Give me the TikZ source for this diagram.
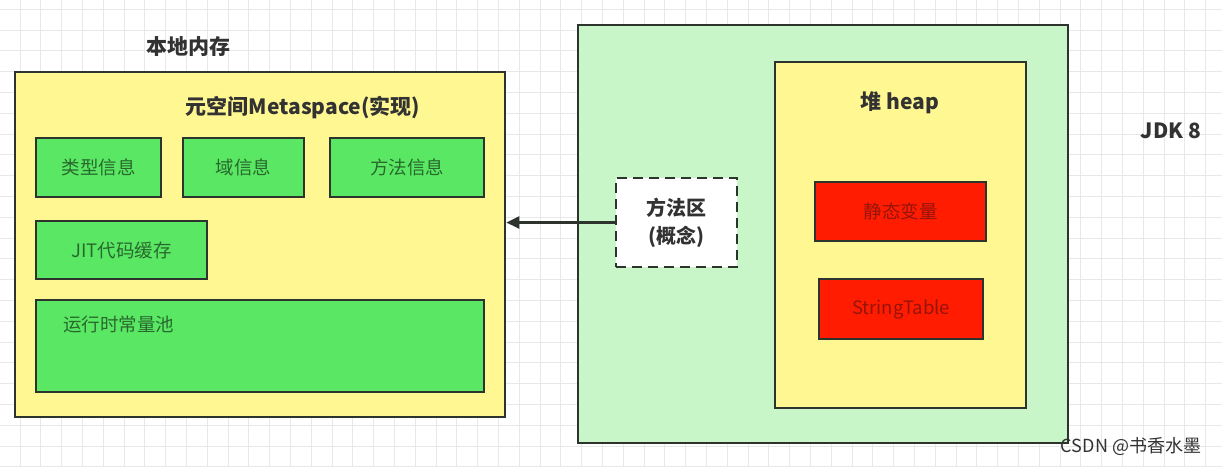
\documentclass[tikz,border=0pt]{standalone}
\usepackage{fontspec}
\setmainfont{Noto Sans CJK SC}
\usetikzlibrary{arrows.meta}
\definecolor{gridc}{RGB}{232,232,232}
\definecolor{bordc}{RGB}{45,52,45}
\definecolor{yellowc}{RGB}{255,247,145}
\definecolor{greenc}{RGB}{90,232,100}
\definecolor{palegreen}{RGB}{200,246,200}
\definecolor{redc}{RGB}{255,28,0}
\definecolor{greentext}{RGB}{40,105,45}
\definecolor{redtext}{RGB}{150,20,10}
\definecolor{labeltext}{RGB}{50,50,50}
\tikzset{
  region/.style={draw=bordc, line width=2.6pt, inner sep=0pt},
  ybox/.style={region, fill=yellowc},
  gbox/.style={region, fill=greenc, text=greentext, font=\fontsize{18.5}{21}\selectfont},
  rbox/.style={region, fill=redc, text=redtext, font=\fontsize{18.5}{21}\selectfont},
  dbox/.style={region, fill=white, dash pattern=on 10pt off 6pt, text=labeltext, align=center, font=\bfseries\fontsize{20}{28}\selectfont},
  title/.style={text=labeltext, inner sep=0pt, font=\bfseries\fontsize{21}{24}\selectfont},
  conn/.style={draw=bordc, line width=2.6pt, -{Triangle[length=13pt,width=12pt]}},
}
\begin{document}
\begin{tikzpicture}[x=1pt,y=-1pt]
\useasboundingbox (0,0) rectangle (1222,466);
\fill[white] (0,0) rectangle (1222,466);
\foreach \gx in {0,...,58} {\draw[gridc, line width=0.8pt] ({20+\gx*20.8},0) -- ({20+\gx*20.8},466);}
\foreach \gy in {0,...,22} {\draw[gridc, line width=0.8pt] (0,{9.2+\gy*20.8}) -- (1222,{9.2+\gy*20.8});}

% left: native memory
\node[title] (lmem) at (188,47) {本地内存};
\node[ybox, minimum width=490pt, minimum height=345pt] (mem) at (260,244.5) {};
\node[title] (meta) at (303,108) {元空间Metaspace(实现)};
\node[gbox, minimum width=125pt, minimum height=59pt] (type) at (98.5,167.5) {类型信息};
\node[gbox, minimum width=121pt, minimum height=59pt] (field) at (243.5,167.5) {域信息};
\node[gbox, minimum width=154pt, minimum height=59pt] (meth) at (407,167.5) {方法信息};
\node[gbox, minimum width=171pt, minimum height=58pt] (jit) at (121.5,250) {JIT代码缓存};
\node[gbox, minimum width=448pt, minimum height=92pt] (pool) at (260,346) {};
\node[anchor=west, inner sep=0pt, text=greentext, font=\fontsize{18.5}{21}\selectfont] (poolt) at (63,324) {运行时常量池};

% right: JDK 8
\node[region, fill=palegreen, minimum width=490pt, minimum height=418pt] (jvm) at (823,234) {};
\node[ybox, minimum width=251pt, minimum height=346pt] (heap) at (900.5,235) {};
\node[title] (heapt) at (900,103) {堆 heap};
\node[rbox, minimum width=171pt, minimum height=59pt] (stat) at (900.5,211.5) {静态变量};
\node[rbox, minimum width=164pt, minimum height=60pt] (strt) at (901,309) {StringTable};
\node[dbox, minimum width=121pt, minimum height=89pt] (mfa) at (676.5,222.5) {方法区\\(概念)};
\node[title] (jdk) at (1171,131) {JDK 8};

\draw[conn] (mfa.west) -- (mfa.west -| mem.east);

\node[inner sep=0pt, text=labeltext, font=\fontsize{18}{20}\selectfont] (wm) at (1131,447) {CSDN @书香水墨};
\end{tikzpicture}
\end{document}
